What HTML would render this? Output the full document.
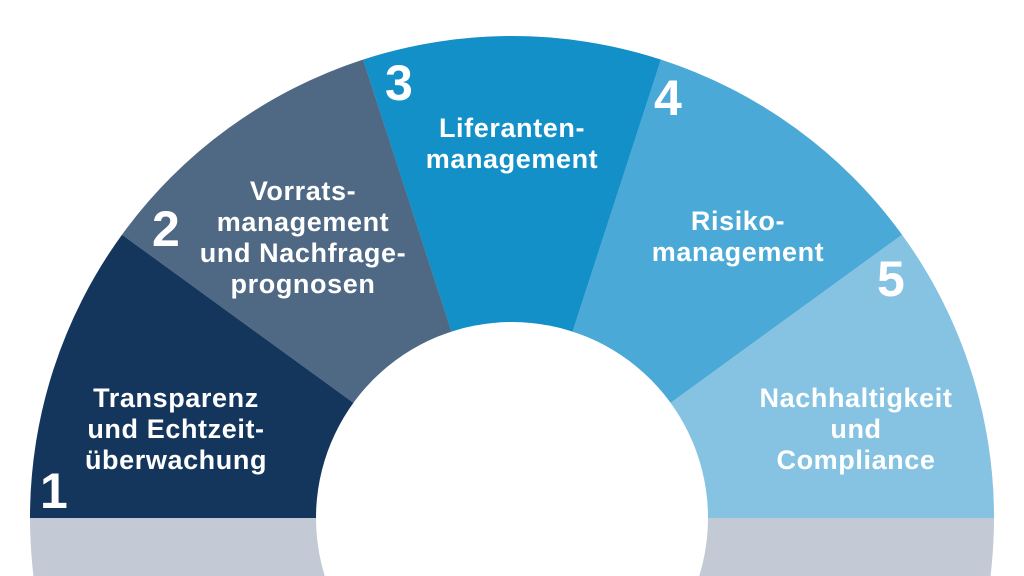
<!DOCTYPE html>
<html><head><meta charset="utf-8"><style>
html,body{margin:0;padding:0;background:#fff;width:1024px;height:576px;overflow:hidden;}
svg{display:block}
text{font-family:"Liberation Sans",sans-serif;font-weight:bold;fill:#fff;}
.t{font-size:27px;text-anchor:middle;letter-spacing:0.6px}
.n{font-size:50px}
</style></head><body>
<svg width="1024" height="576" viewBox="0 0 1024 576">
<circle cx="512" cy="518" r="482" fill="#c3cad5"/>
<path d="M512,518 L30,518 A482,482 0 0 1 122,234.7 Z" fill="#14355c"/>
<path d="M512,518 L122,234.7 A482,482 0 0 1 363.1,59.6 Z" fill="#4f6985"/>
<path d="M512,518 L363.1,59.6 A482,482 0 0 1 660.9,59.6 Z" fill="#1390c8"/>
<path d="M512,518 L660.9,59.6 A482,482 0 0 1 902,234.7 Z" fill="#4aa9d6"/>
<path d="M512,518 L902,234.7 A482,482 0 0 1 994,518 Z" fill="#86c3e2"/>
<circle cx="512" cy="518" r="196" fill="#fff"/>
<g class="t">
<text x="176" y="407">Transparenz</text>
<text x="176" y="438">und Echtzeit-</text>
<text x="176" y="469">überwachung</text>
<text x="303" y="200">Vorrats-</text>
<text x="303" y="231">management</text>
<text x="303" y="262">und Nachfrage-</text>
<text x="303" y="293">prognosen</text>
<text x="512" y="137">Liferanten-</text>
<text x="512" y="168">management</text>
<text x="738" y="230">Risiko-</text>
<text x="738" y="261">management</text>
<text x="856" y="407">Nachhaltigkeit</text>
<text x="856" y="438">und</text>
<text x="856" y="469">Compliance</text>
</g>
<text class="n" x="40" y="508">1</text>
<text class="n" x="152" y="246">2</text>
<text class="n" x="385" y="100">3</text>
<text class="n" x="654" y="115">4</text>
<text class="n" x="877" y="296">5</text>
</svg>
</body></html>
